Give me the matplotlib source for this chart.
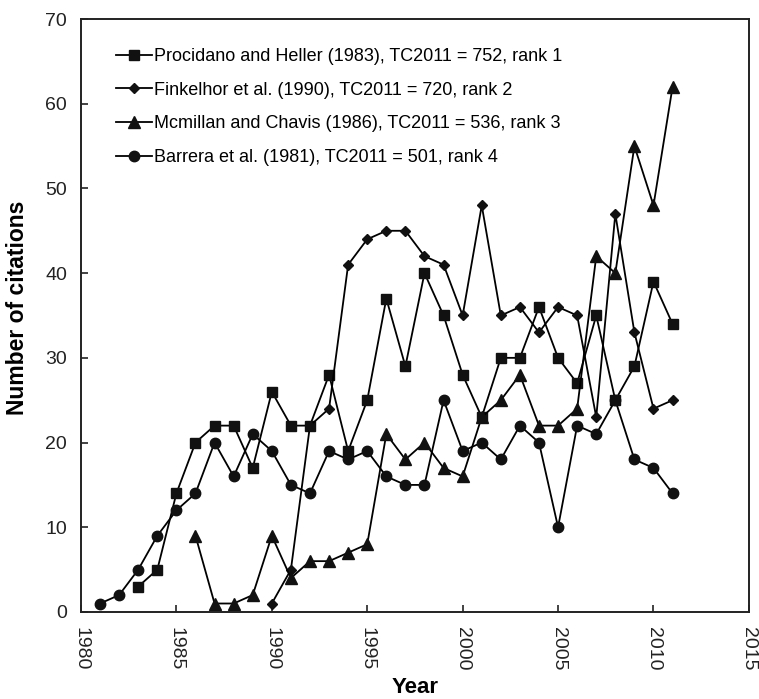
import matplotlib
matplotlib.use("Agg")
import matplotlib.pyplot as plt

plt.rcParams["font.family"] = ["Liberation Sans", "DejaVu Sans"]

# Citations per year for the four top-cited papers
years_procidano = list(range(1983, 2012))
procidano = [3, 5, 14, 20, 22, 22, 17, 26, 22, 22, 28, 19, 25, 37, 29, 40, 35,
             28, 23, 30, 30, 36, 30, 27, 35, 25, 29, 39, 34]

years_finkelhor = list(range(1990, 2012))
finkelhor = [1, 5, 22, 24, 41, 44, 45, 45, 42, 41, 35, 48, 35, 36, 33, 36, 35,
             23, 47, 33, 24, 25]

years_mcmillan = list(range(1986, 2012))
mcmillan = [9, 1, 1, 2, 9, 4, 6, 6, 7, 8, 21, 18, 20, 17, 16, 23, 25, 28, 22,
            22, 24, 42, 40, 55, 48, 62]

years_barrera = list(range(1981, 2012))
barrera = [1, 2, 5, 9, 12, 14, 20, 16, 21, 19, 15, 14, 19, 18, 19, 16, 15, 15,
           25, 19, 20, 18, 22, 20, 10, 22, 21, 25, 18, 17, 14]

labels = [
    "Procidano and Heller (1983), TC2011 = 752, rank 1",
    "Finkelhor et al. (1990), TC2011 = 720, rank 2",
    "Mcmillan and Chavis (1986), TC2011 = 536, rank 3",
    "Barrera et al. (1981), TC2011 = 501, rank 4",
]

fig = plt.figure(figsize=(7.59, 6.99), dpi=100)
ax = fig.add_axes([0.1067, 0.1245, 0.880, 0.8483])

series = [
    (years_procidano, procidano, "s", 7.5),
    (years_finkelhor, finkelhor, "D", 5.0),
    (years_mcmillan, mcmillan, "^", 8.0),
    (years_barrera, barrera, "o", 7.5),
]
for (x, y, m, ms), lab in zip(series, labels):
    ax.plot(x, y, color="black", lw=1.3, marker=m, ms=ms,
            markerfacecolor="#111111", markeredgecolor="#111111", label=lab)

ax.set_xlim(1980, 2015)
ax.set_ylim(0, 70)
ax.set_xticks(range(1980, 2016, 5))
ax.set_yticks(range(0, 71, 10))
ax.tick_params(axis="both", direction="in", length=5, width=1.2,
               labelsize=14, colors="#222222")
ax.tick_params(axis="x", labelrotation=-90, pad=11)
ax.tick_params(axis="y", pad=10)
for sp in ax.spines.values():
    sp.set_linewidth(1.4)
    sp.set_color("#222222")

ax.set_xlabel("Year", fontsize=16, fontweight="bold")
ax.set_ylabel("Number of citations", fontsize=16.5, fontweight="bold")
ax.xaxis.set_label_coords(0.5007, -0.110)
ax.yaxis.set_label_coords(-0.078, 0.513)

ax.legend(loc="upper left", frameon=False, fontsize=13, handlelength=2.0,
          handletextpad=0.12, labelspacing=0.92, borderpad=0,
          borderaxespad=0, bbox_to_anchor=(0.0524, 0.951))

fig.savefig("out.png", dpi=100)
